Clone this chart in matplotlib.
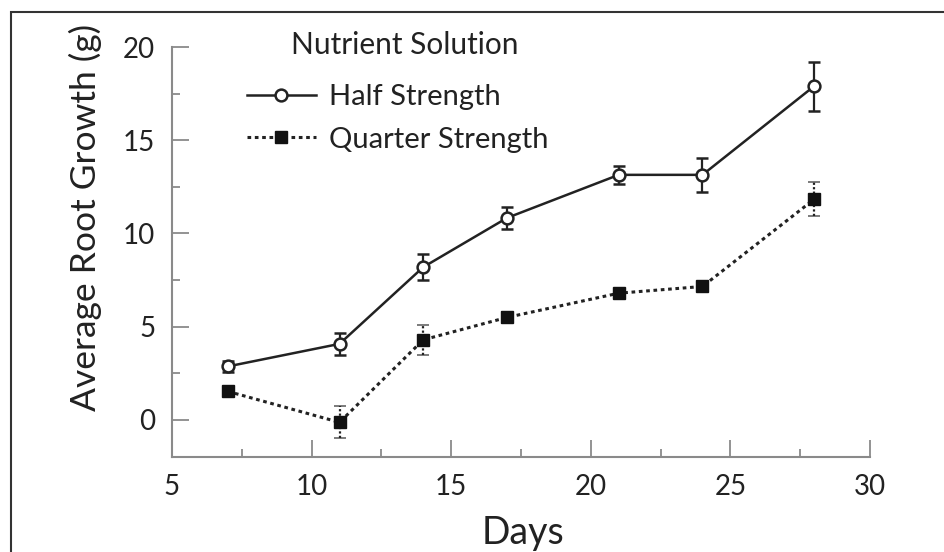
import matplotlib
matplotlib.use("Agg")
import matplotlib.pyplot as plt
from matplotlib.patches import Rectangle
from matplotlib.lines import Line2D
from matplotlib.ticker import MultipleLocator

days = [7, 11, 14, 17, 21, 24, 28]
half = [2.86, 4.07, 8.19, 10.83, 13.14, 13.14, 17.9]
half_err = [0.3, 0.6, 0.7, 0.6, 0.5, 0.9, 1.32]
quarter = [1.52, -0.14, 4.29, 5.49, 6.79, 7.15, 11.83]
quarter_err = [0.15, 0.85, 0.8, 0.3, 0.2, 0.2, 0.9]

plt.rcParams['font.family'] = ['Lato', 'DejaVu Sans']

fig = plt.figure(figsize=(9.45, 5.52), dpi=100)
ax = fig.add_axes([172/945, 1-457/552, (870-172)/945, (457-47)/552])

# outer frame
fig.patches.append(Rectangle((11/945, -0.1), 1.2, 1 - 12/552 + 0.1,
                             transform=fig.transFigure, fill=False,
                             edgecolor='#333333', linewidth=1.5))

c_ax = '#8a8a8a'
dark = '#222222'
dot = (0, (1.2, 1.2))
ax.errorbar(days, half, yerr=half_err, color=dark, lw=1.8,
            marker='o', ms=8.5, mfc='white', mec=dark, mew=1.8,
            capsize=4.5, capthick=1.6, elinewidth=1.6, zorder=3)
eb2 = ax.errorbar(days, quarter, yerr=quarter_err, color=dark, lw=2.2,
                  ls=dot, marker='s', ms=8.5, mfc='#111111',
                  mec='#111111', capsize=4.5, capthick=1.4, elinewidth=1.6,
                  zorder=3)
for coll in eb2[2]:
    coll.set_linestyle((0, (1, 1)))
for cap in eb2[1]:
    cap.set_alpha(0.6)

ax.set_xlim(5, 30)
ax.set_ylim(-2, 20)
ax.xaxis.set_major_locator(MultipleLocator(5))
ax.xaxis.set_minor_locator(MultipleLocator(2.5))
ax.yaxis.set_minor_locator(MultipleLocator(2.5))
ax.set_yticks([0, 5, 10, 15, 20])

for s in ['top', 'right']:
    ax.spines[s].set_visible(False)
for s in ['left', 'bottom']:
    ax.spines[s].set_color(c_ax)
    ax.spines[s].set_linewidth(1.5)

ax.tick_params(axis='both', which='major', direction='in', length=12,
               width=1.3, color=c_ax, labelsize=20, labelcolor=dark)
ax.tick_params(axis='both', which='minor', direction='in', length=6,
               width=1.3, color=c_ax)
ax.tick_params(axis='x', which='major', pad=12)
ax.tick_params(axis='y', which='major', pad=12)

ax.set_xlabel('Days', fontsize=27, color=dark)
ax.xaxis.label.set_va('center')
ax.xaxis.set_label_coords((523-172)/698, (457-533)/410)
ax.set_ylabel('Average Root Growth (g)', fontsize=25.5, color=dark)
ax.yaxis.label.set_va('center')
ax.yaxis.set_label_coords((85-172)/698, (457-217)/410)

ax.text((405-172)/698, (457-45)/410, 'Nutrient Solution', transform=ax.transAxes,
        ha='center', va='center', fontsize=21.5, color=dark)

handles = [
    Line2D([], [], color=dark, lw=1.8, marker='o', ms=8.5, mfc='white',
           mec=dark, mew=1.8),
    Line2D([], [], color=dark, lw=2.2, ls=dot, marker='s', ms=8.5,
           mfc='#111111', mec='#111111'),
]
labels = ['Half Strength', 'Quarter Strength']
leg = ax.legend(handles, labels, loc='upper left',
                bbox_to_anchor=((247-172)/698, (457-84)/410),
                frameon=False, fontsize=21,
                handlelength=2.35, handletextpad=0.45,
                labelspacing=0.57, borderaxespad=0, borderpad=0)
for t in leg.get_texts():
    t.set_color(dark)

fig.savefig('out.png', dpi=100)
